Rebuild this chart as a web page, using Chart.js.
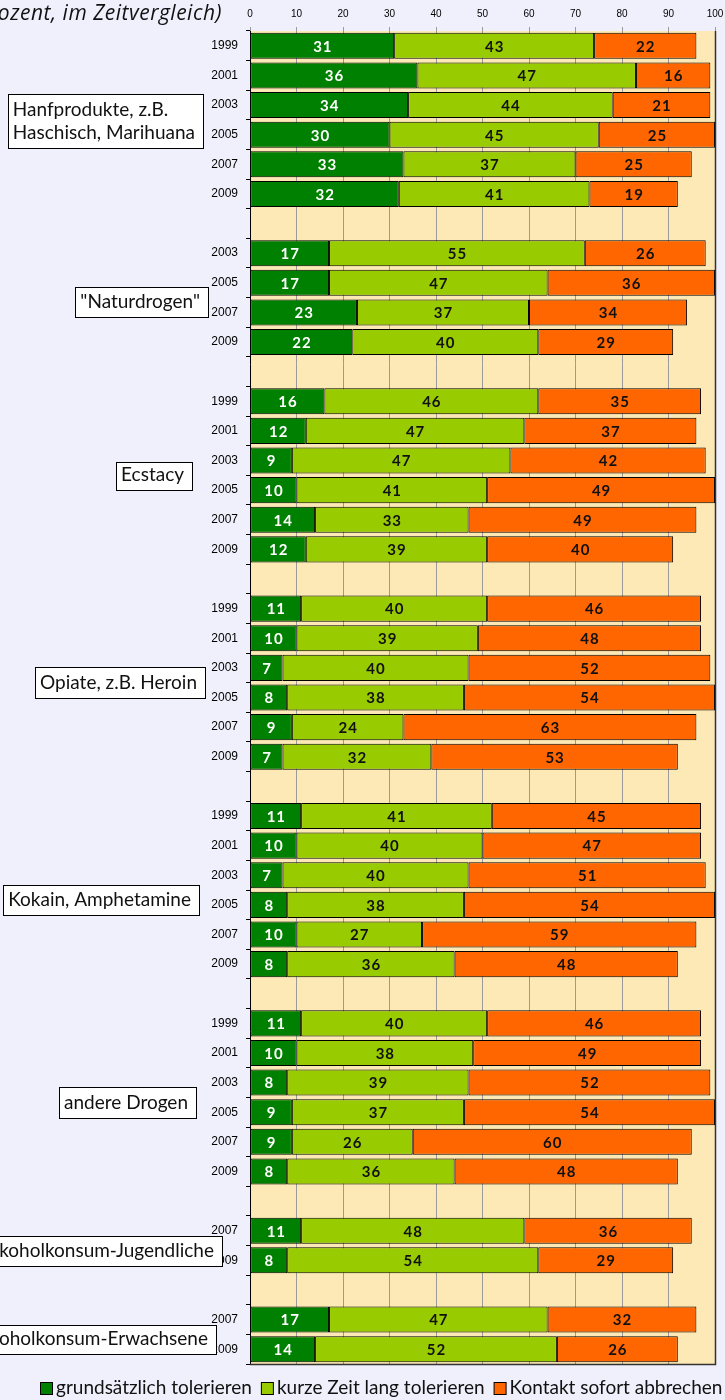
<!DOCTYPE html>
<html><head><meta charset="utf-8">
<script src="https://cdn.jsdelivr.net/npm/chart.js@4/dist/chart.umd.min.js"></script>
<style>html,body{margin:0;padding:0;background:#F0F0FC;overflow:hidden} canvas{display:block}</style>
</head><body>
<canvas id="c" width="725" height="1400"></canvas>
<script>
// ---- data ----
const years = ['1999','2001','2003','2005','2007','2009','',
  '2003','2005','2007','2009','',
  '1999','2001','2003','2005','2007','2009','',
  '1999','2001','2003','2005','2007','2009','',
  '1999','2001','2003','2005','2007','2009','',
  '1999','2001','2003','2005','2007','2009','',
  '2007','2009','',
  '2007','2009'];
const grundsaetzlich = [31,36,34,30,33,32,null, 17,17,23,22,null, 16,12,9,10,14,12,null, 11,10,7,8,9,7,null, 11,10,7,8,10,8,null, 11,10,8,9,9,8,null, 11,8,null, 17,14];
const kurzeZeit = [43,47,44,45,37,41,null, 55,47,37,40,null, 46,47,47,41,33,39,null, 40,39,40,38,24,32,null, 41,40,40,38,27,36,null, 40,38,39,37,26,36,null, 48,54,null, 47,52];
const abbrechen = [22,16,21,25,25,19,null, 26,36,34,29,null, 35,37,42,49,49,40,null, 46,48,52,54,63,53,null, 45,47,51,54,59,48,null, 46,49,52,54,60,48,null, 36,29,null, 32,26];
const seriesNames = ['grundsätzlich tolerieren','kurze Zeit lang tolerieren','Kontakt sofort abbrechen'];
const groupNames = [['Hanfprodukte, z.B.','Haschisch, Marihuana'],['"Naturdrogen"'],['Ecstacy'],['Opiate, z.B. Heroin'],['Kokain, Amphetamine'],['andere Drogen'],['Alkoholkonsum-Jugendliche'],['Alkoholkonsum-Erwachsene']];
const titleText = '(in Prozent, im Zeitvergleich)';

// ---- styling / layout ----
const colors = ['#008000','#99CC00','#FF6600'];
const boxLayout = [
  {r:203,t:94,b:148},{r:208,t:287,b:317},{r:192,t:462,b:490},{r:205,t:667,b:698},
  {r:199,t:885,b:915},{r:196,t:1087,b:1118},{r:222,t:1236,b:1266},{r:216,t:1325,b:1354}
];

const bgPlugin = {
  id:'bg',
  beforeDraw(chart){
    const {ctx, chartArea:a} = chart;
    ctx.save(); ctx.fillStyle='#FDE9B5'; ctx.fillRect(a.left,a.top,a.right-a.left,a.bottom-a.top); ctx.restore();
  },
  afterDraw(chart){
    const {ctx, chartArea:a} = chart;
    ctx.save(); ctx.strokeStyle='#333'; ctx.lineWidth=1.5;
    ctx.beginPath(); ctx.moveTo(a.left,a.bottom+0.5); ctx.lineTo(a.right+0.5,a.bottom+0.5); ctx.lineTo(a.right+0.5,a.top); ctx.stroke();
    ctx.restore();
  }
};

const valuePlugin = {
  id:'values',
  afterDatasetsDraw(chart){
    const c = chart.ctx; c.save();
    c.font = 'bold 15px Lato'; c.textAlign='center'; c.textBaseline='middle';
    try{ c.letterSpacing='1px'; }catch(e){}
    chart.data.datasets.forEach((ds,i)=>{
      const meta = chart.getDatasetMeta(i);
      meta.data.forEach((el,j)=>{
        const v = ds.data[j]; if(v==null) return;
        const p = el.getCenterPoint();
        c.fillStyle = i===0 ? '#ffffff' : '#111111';
        c.fillText(String(v), p.x+0.5, p.y+1);
      });
    });
    c.restore();
  }
};

const annotPlugin = {
  id:'annot',
  afterDraw(chart){
    const c = chart.ctx; c.save();
    // title
    c.font = 'italic 21px Open Sans'; c.fillStyle='#111'; c.textAlign='right'; c.textBaseline='alphabetic';
    try{ c.letterSpacing='0.5px'; }catch(e){}
    c.fillText(titleText, 222, 20);
    try{ c.letterSpacing='0px'; }catch(e){}
    // group boxes
    c.font = '19px Lato'; c.textAlign='left';
    groupNames.forEach((lines,k)=>{
      const L = boxLayout[k];
      const w = Math.max(...lines.map(s=>c.measureText(s).width));
      const left = L.r - 8 - w - 5;
      c.fillStyle='#fff'; c.fillRect(left, L.t, L.r-left, L.b-L.t);
      c.strokeStyle='#000'; c.lineWidth=1; c.strokeRect(Math.round(left)+0.5, L.t+0.5, Math.round(L.r-left), L.b-L.t);
      c.fillStyle='#111';
      lines.forEach((s,li)=>{
        const base = L.b - 9 - (lines.length-1-li)*23;
        c.fillText(s, left+5, base);
      });
    });
    // legend
    c.font = '19px Lato'; c.textBaseline='alphabetic';
    let x = 40;
    seriesNames.forEach((s,i)=>{
      c.fillStyle = colors[i]; c.fillRect(x+0.5,1382.5,12,12);
      c.strokeStyle='#000'; c.lineWidth=1; c.strokeRect(x+0.5,1382.5,12,12);
      c.fillStyle='#111'; c.fillText(s, x+16, 1394);
      x += 16 + c.measureText(s).width + 9;
    });
    c.restore();
  }
};

function makeDs(i, data){
  return {label:seriesNames[i], data, backgroundColor:colors[i], borderColor:'#000', borderWidth:1,
    borderSkipped:false, barPercentage:0.88, categoryPercentage:1};
}

function draw(){
  new Chart(document.getElementById('c'), {
    type:'bar',
    data:{labels:years, datasets:[makeDs(0,grundsaetzlich), makeDs(1,kurzeZeit), makeDs(2,abbrechen)]},
    options:{
      indexAxis:'y', responsive:false, animation:false, devicePixelRatio:1,
      layout:{padding:{top:0,right:10,bottom:36,left:0}},
      plugins:{legend:{display:false}, tooltip:{enabled:false}},
      scales:{
        x:{position:'top', stacked:true, min:0, max:100,
          ticks:{stepSize:10, font:{family:'Liberation Sans', size:10}, color:'#000', padding:7, maxRotation:0},
          grid:{color:'#9a9a9a', tickLength:4, tickColor:'#9a9a9a'},
          border:{display:false},
          afterFit(s){ s.height = 31; s.paddingRight = 0; s.paddingLeft = 0; }},
        y:{stacked:true,
          ticks:{font:{family:'Liberation Sans', size:12}, color:'#000', padding:8, autoSkip:false},
          grid:{drawOnChartArea:false, tickLength:4, color:'#000', offset:true},
          border:{display:true, color:'#000'},
          afterFit(s){ s.width = 250; }}
      }
    },
    plugins:[bgPlugin, valuePlugin, annotPlugin]
  });
}
Promise.all(['19px Lato','bold 15px Lato','italic 21px "Open Sans"'].map(f=>document.fonts.load(f).catch(()=>{}))).then(draw, draw);
</script>
</body></html>
